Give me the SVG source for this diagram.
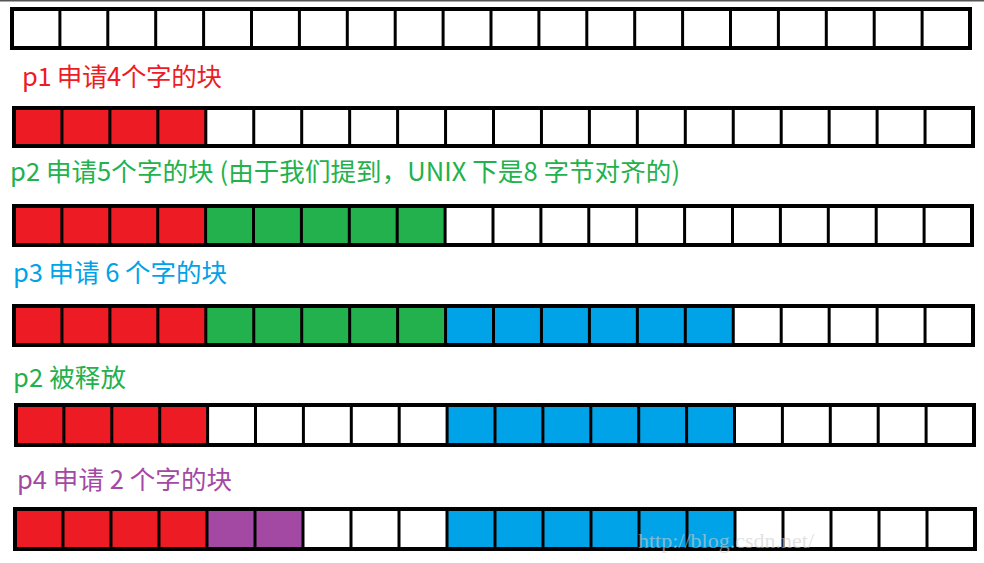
<svg xmlns="http://www.w3.org/2000/svg" width="984" height="563" viewBox="0 0 984 563">
<style>
.bg{fill:#ffffff}
.frame{fill:none;stroke:#000;stroke-width:4}
.div{fill:none;stroke:#000;stroke-width:3}
.r{fill:#ED1C24}.g{fill:#22B14C}.b{fill:#00A2E8}.p{fill:#A349A4}
.lbl{font-family:'Noto Sans CJK SC','Noto Sans',sans-serif;font-size:25.5px}
.wm{font-family:'Liberation Serif',serif;font-size:22px;fill:#cfcfcf;opacity:0.6}
</style>
<rect x="0" y="0" width="984" height="563" fill="#fff"/>
<line x1="0" y1="0.75" x2="984" y2="0.75" stroke="#555" stroke-width="1.5"/>
<g id="labels">
<text id="t1" class="lbl" x="22" y="86" fill="#ED1C24" textLength="200">p1 申请4个字的块</text>
<text id="t2" class="lbl" x="10" y="181" fill="#22B14C" textLength="670">p2 申请5个字的块 (由于我们提到，UNIX 下是8 字节对齐的)</text>
<text id="t3" class="lbl" x="13" y="282" fill="#00A2E8" textLength="214">p3 申请 6 个字的块</text>
<text id="t4" class="lbl" x="13" y="387" fill="#22B14C" textLength="113">p2 被释放</text>
<text id="t5" class="lbl" x="17" y="489" fill="#A349A4" textLength="215">p4 申请 2 个字的块</text>
</g>
<g id="row1">
<rect class="bg" x="12" y="9" width="958" height="39"/>
<path class="div" d="M59.9 9V48M107.8 9V48M155.7 9V48M203.6 9V48M251.5 9V48M299.4 9V48M347.3 9V48M395.2 9V48M443.1 9V48M491 9V48M538.9 9V48M586.8 9V48M634.7 9V48M682.6 9V48M730.5 9V48M778.4 9V48M826.3 9V48M874.2 9V48M922.1 9V48"/>
<rect class="frame" x="12" y="9" width="958" height="39"/>
</g>
<g id="row2">
<rect class="bg" x="14" y="108" width="959" height="38"/>
<rect class="r" x="14" y="108" width="191.8" height="38"/>
<path class="div" d="M61.95 108V146M109.9 108V146M157.85 108V146M205.8 108V146M253.75 108V146M301.7 108V146M349.65 108V146M397.6 108V146M445.55 108V146M493.5 108V146M541.45 108V146M589.4 108V146M637.35 108V146M685.3 108V146M733.25 108V146M781.2 108V146M829.15 108V146M877.1 108V146M925.05 108V146"/>
<rect class="frame" x="14" y="108" width="959" height="38"/>
</g>
<g id="row3">
<rect class="bg" x="14" y="206" width="958" height="39"/>
<rect class="r" x="14" y="206" width="191.6" height="39"/>
<rect class="g" x="205.6" y="206" width="239.5" height="39"/>
<path class="div" d="M61.9 206V245M109.8 206V245M157.7 206V245M205.6 206V245M253.5 206V245M301.4 206V245M349.3 206V245M397.2 206V245M445.1 206V245M493 206V245M540.9 206V245M588.8 206V245M636.7 206V245M684.6 206V245M732.5 206V245M780.4 206V245M828.3 206V245M876.2 206V245M924.1 206V245"/>
<rect class="frame" x="14" y="206" width="958" height="39"/>
</g>
<g id="row4">
<rect class="bg" x="14" y="306" width="959" height="39"/>
<rect class="r" x="14" y="306" width="191.8" height="39"/>
<rect class="g" x="205.8" y="306" width="239.75" height="39"/>
<rect class="b" x="445.55" y="306" width="287.7" height="39"/>
<path class="div" d="M61.95 306V345M109.9 306V345M157.85 306V345M205.8 306V345M253.75 306V345M301.7 306V345M349.65 306V345M397.6 306V345M445.55 306V345M493.5 306V345M541.45 306V345M589.4 306V345M637.35 306V345M685.3 306V345M733.25 306V345M781.2 306V345M829.15 306V345M877.1 306V345M925.05 306V345"/>
<rect class="frame" x="14" y="306" width="959" height="39"/>
</g>
<g id="row5">
<rect class="bg" x="16" y="405" width="958" height="40"/>
<rect class="r" x="16" y="405" width="191.6" height="40"/>
<rect class="b" x="447.1" y="405" width="287.4" height="40"/>
<path class="div" d="M63.9 405V445M111.8 405V445M159.7 405V445M207.6 405V445M255.5 405V445M303.4 405V445M351.3 405V445M399.2 405V445M447.1 405V445M495 405V445M542.9 405V445M590.8 405V445M638.7 405V445M686.6 405V445M734.5 405V445M782.4 405V445M830.3 405V445M878.2 405V445M926.1 405V445"/>
<rect class="frame" x="16" y="405" width="958" height="40"/>
</g>
<g id="row6">
<rect class="bg" x="15" y="509" width="960" height="40"/>
<rect class="r" x="15" y="509" width="192" height="40"/>
<rect class="p" x="207" y="509" width="96" height="40"/>
<rect class="b" x="447" y="509" width="288" height="40"/>
<path class="div" d="M63 509V549M111 509V549M159 509V549M207 509V549M255 509V549M303 509V549M351 509V549M399 509V549M447 509V549M495 509V549M543 509V549M591 509V549M639 509V549M687 509V549M735 509V549M783 509V549M831 509V549M879 509V549M927 509V549"/>
<rect class="frame" x="15" y="509" width="960" height="40"/>
</g>
<text id="watermark" class="wm" x="638" y="548">http://blog.csdn.net/</text>
</svg>
